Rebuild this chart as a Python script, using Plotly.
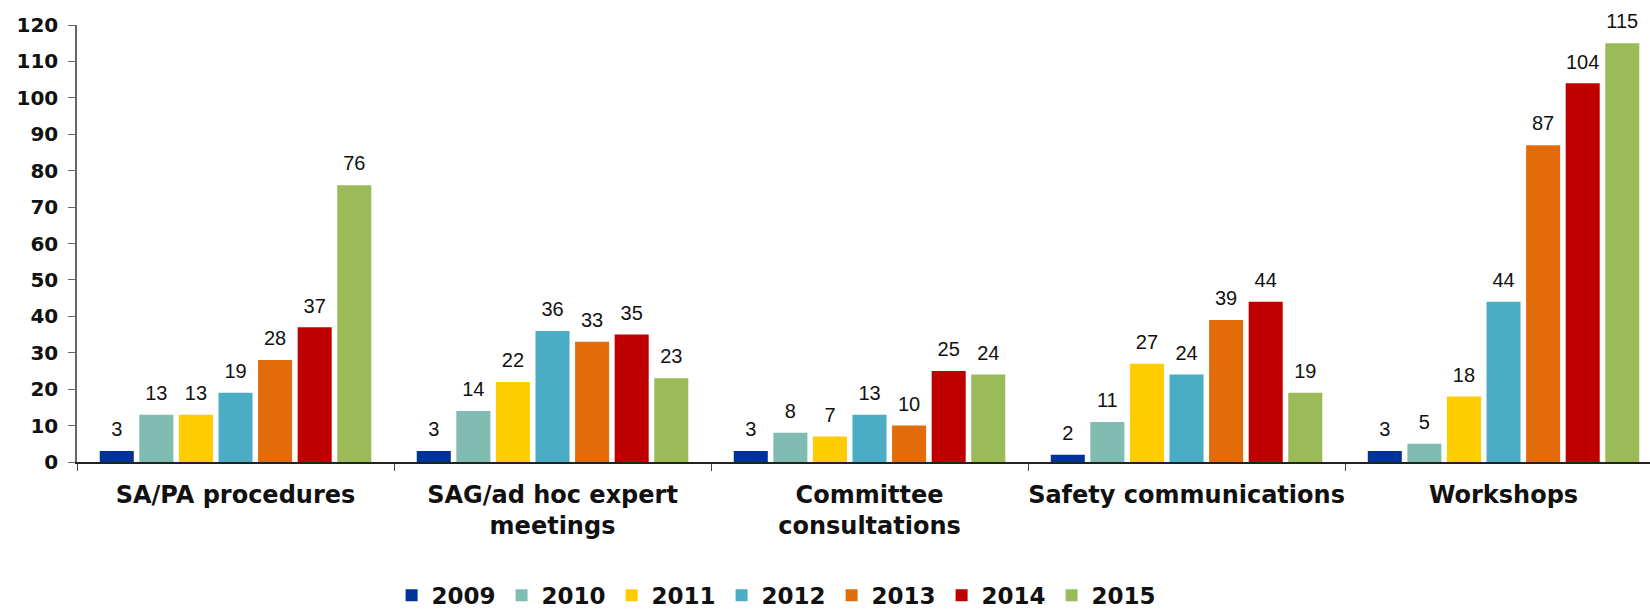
import plotly.graph_objects as go

# Activity counts per category and year
categories = [
    "SA/PA procedures",
    "SAG/ad hoc expert<br>meetings",
    "Committee<br>consultations",
    "Safety communications",
    "Workshops",
]
years = ["2009", "2010", "2011", "2012", "2013", "2014", "2015"]
values_2009 = [3, 3, 3, 2, 3]
values_2010 = [13, 14, 8, 11, 5]
values_2011 = [13, 22, 7, 27, 18]
values_2012 = [19, 36, 13, 24, 44]
values_2013 = [28, 33, 10, 39, 87]
values_2014 = [37, 35, 25, 44, 104]
values_2015 = [76, 23, 24, 19, 115]
y_ticks = list(range(0, 121, 10))

series = [values_2009, values_2010, values_2011, values_2012,
          values_2013, values_2014, values_2015]
colors = ["#003399", "#80BCB2", "#FFCC00", "#4BACC6",
          "#E36C0A", "#C00000", "#9BBB59"]

fig = go.Figure()
for year, vals, col in zip(years, series, colors):
    fig.add_trace(go.Bar(
        x=categories, y=vals, name=year, offsetgroup=year,
        legendgroup=year,
        marker=dict(color=col, line=dict(width=0)),
        hoverinfo="skip",
    ))
    # value labels floated a little above each bar
    fig.add_trace(go.Scatter(
        x=categories, y=vals, mode="text+markers", offsetgroup=year,
        legendgroup=year, showlegend=False,
        text=[str(v) for v in vals], textposition="top center",
        marker=dict(size=14, color="rgba(0,0,0,0)"),
        textfont=dict(family="Liberation Sans", size=20, color="#111111"),
        cliponaxis=False, hoverinfo="skip",
    ))

fig.update_layout(
    width=1650, height=614,
    margin=dict(l=77, r=0, t=25, b=152, autoexpand=False),
    paper_bgcolor="white", plot_bgcolor="white",
    barmode="group", bargap=0.126, bargroupgap=0.14,
    scattermode="group", scattergap=0.126,
    font=dict(family="DejaVu Sans", color="#111111"),
    showlegend=True,
    legend=dict(
        orientation="h", x=0.2, xanchor="left",
        y=-0.305, yanchor="middle",
        font=dict(family="DejaVu Sans", size=23, weight="bold", color="#111111"),
        itemwidth=30, entrywidth=65, entrywidthmode="pixels",
        traceorder="normal",
    ),
    xaxis=dict(
        type="category", tickson="boundaries", tickangle=0,
        range=[-0.5, 4.462],
        automargin=False,
        showline=True, linecolor="#222222", linewidth=1.5,
        ticks="outside", ticklen=7, tickcolor="#444444",
        tickfont=dict(family="DejaVu Sans", size=24, weight="bold", color="#111111"),
        ticklabelstandoff=10,
        showgrid=False,
    ),
    yaxis=dict(
        range=[0, 120], tickvals=y_ticks, automargin=False,
        showline=True, linecolor="#666666", linewidth=1.5,
        ticks="outside", ticklen=7, tickcolor="#666666",
        tickfont=dict(family="DejaVu Sans", size=20, weight="bold", color="#111111"),
        ticklabelstandoff=6,
        showgrid=False, zeroline=False,
    ),
)

fig.write_html("out.html")
